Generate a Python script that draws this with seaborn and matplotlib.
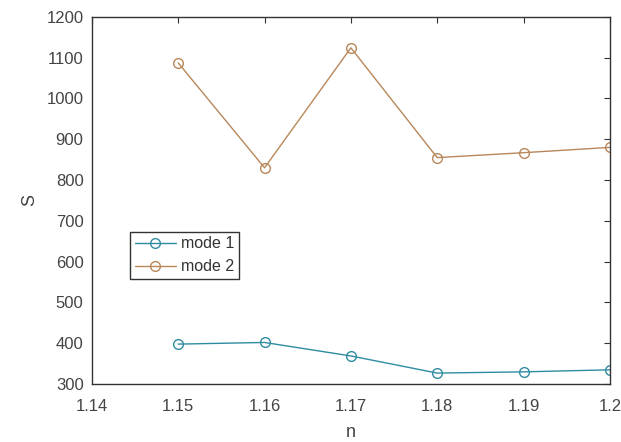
import matplotlib
matplotlib.use("Agg")
import matplotlib.pyplot as plt
import pandas as pd
import seaborn as sns

n_values = [1.15, 1.16, 1.17, 1.18, 1.19, 1.20]
mode1_s = [398, 402, 369, 327, 330, 335]
mode2_s = [1087, 830, 1124, 855, 867, 880]
series_names = ["mode 1", "mode 2"]
series_colors = ["#2f8ca0", "#b8875a"]

df = pd.DataFrame({
    "n": n_values * 2,
    "S": mode1_s + mode2_s,
    "mode": [series_names[0]] * len(n_values) + [series_names[1]] * len(n_values),
})

sns.set_style("white")
plt.rcParams["font.family"] = ["Liberation Sans", "DejaVu Sans"]

fig = plt.figure(figsize=(6.21, 4.42), dpi=100)
ax = fig.add_axes([0.148, 0.131, 0.834, 0.831])

for name, color in zip(series_names, series_colors):
    sns.lineplot(
        data=df[df["mode"] == name], x="n", y="S", ax=ax, color=color,
        marker="o", markersize=7, markerfacecolor="none",
        markeredgecolor=color, markeredgewidth=1.0, linewidth=1.0,
        label=name,
    )

ax.set_xlim(1.14, 1.20)
ax.set_ylim(300, 1200)
ax.set_xticks([1.14, 1.15, 1.16, 1.17, 1.18, 1.19, 1.20])
ax.set_xticklabels(["1.14", "1.15", "1.16", "1.17", "1.18", "1.19", "1.2"])
ax.set_yticks(range(300, 1201, 100))
ax.tick_params(direction="in", length=4, width=0.8, top=True, right=True,
               labelsize=12, colors="#333333", labelcolor="#444444")
ax.tick_params(axis="x", pad=11)
ax.tick_params(axis="y", pad=6)
for spine in ax.spines.values():
    spine.set_visible(True)
    spine.set_color("#333333")
    spine.set_linewidth(1.0)
ax.set_xlabel("n", fontsize=13, color="#444444", labelpad=7)
ax.set_ylabel("S", fontsize=13, color="#444444", labelpad=6)

leg = ax.legend(loc="upper left", bbox_to_anchor=(0.073, 0.415), fancybox=False,
                edgecolor="#333333", framealpha=1, fontsize=11.5,
                handlelength=2.6, borderpad=0.3, labelspacing=0.5,
                handletextpad=0.3, borderaxespad=0)
leg.get_frame().set_linewidth(1.0)
for text in leg.get_texts():
    text.set_color("#333333")

fig.savefig("out.png", dpi=100)
